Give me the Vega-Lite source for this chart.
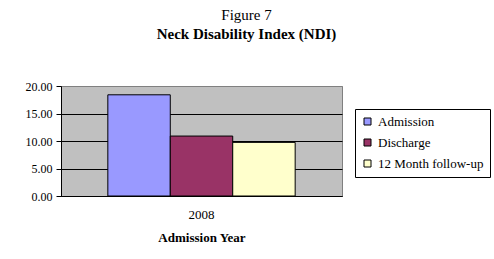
{
  "$schema": "https://vega.github.io/schema/vega-lite/v6.json",
  "width": 281,
  "height": 110,
  "autosize": {"type": "none"},
  "padding": {"left": 61, "top": 86, "right": 152, "bottom": 63},
  "background": "white",
  "title": {
    "text": "Figure 7",
    "subtitle": "Neck Disability Index (NDI)",
    "font": "Liberation Serif",
    "fontSize": 15,
    "fontWeight": "normal",
    "color": "black",
    "subtitleFont": "Liberation Serif",
    "subtitleFontSize": 15,
    "subtitleFontWeight": "bold",
    "subtitleColor": "black",
    "subtitlePadding": 4,
    "anchor": "middle",
    "dx": 45,
    "offset": 38
  },
  "data": {
    "values": [
      {"year": "2008", "measure": "Admission", "score": 18.4},
      {"year": "2008", "measure": "Discharge", "score": 10.9},
      {"year": "2008", "measure": "12 Month follow-up", "score": 9.75}
    ]
  },
  "mark": {"type": "bar", "stroke": "black", "strokeWidth": 1},
  "encoding": {
    "x": {
      "field": "year",
      "type": "nominal",
      "scale": {"paddingOuter": 0.25, "paddingInner": 0},
      "axis": {
        "title": "Admission Year",
        "labelAngle": 0,
        "labelFont": "Liberation Serif",
        "labelFontSize": 13,
        "labelColor": "black",
        "labelPadding": 12,
        "ticks": false,
        "domainColor": "black",
        "titleFont": "Liberation Serif",
        "titleFontSize": 13,
        "titleFontWeight": "bold",
        "titleColor": "black",
        "titlePadding": 10
      }
    },
    "xOffset": {
      "field": "measure",
      "type": "nominal",
      "sort": ["Admission", "Discharge", "12 Month follow-up"],
      "scale": {"paddingInner": 0, "paddingOuter": 0}
    },
    "y": {
      "field": "score",
      "type": "quantitative",
      "scale": {"domain": [0, 20]},
      "axis": {
        "title": null,
        "values": [0, 5, 10, 15, 20],
        "format": ".2f",
        "labelFont": "Liberation Serif",
        "labelFontSize": 12,
        "labelColor": "black",
        "labelPadding": 4,
        "tickColor": "black",
        "tickSize": 5,
        "domainColor": "black",
        "gridColor": {"condition": {"test": "datum.value === 20", "value": "#808080"}, "value": "black"},
        "gridOpacity": 1
      }
    },
    "color": {
      "field": "measure",
      "type": "nominal",
      "sort": ["Admission", "Discharge", "12 Month follow-up"],
      "scale": {
        "domain": ["Admission", "Discharge", "12 Month follow-up"],
        "range": ["#9999FF", "#993366", "#FFFFCC"]
      },
      "legend": {
        "title": null,
        "orient": "none",
        "legendX": 294,
        "legendY": 23,
        "strokeColor": "black",
        "fillColor": "white",
        "padding": 6,
        "symbolType": "square",
        "symbolSize": 49,
        "symbolStrokeColor": "black",
        "symbolStrokeWidth": 1,
        "symbolOpacity": 1,
        "labelFont": "Liberation Serif",
        "labelFontSize": 13,
        "labelColor": "black",
        "labelOffset": 4,
        "rowPadding": 7
      }
    }
  },
  "config": {
    "view": {"fill": "#C0C0C0", "stroke": "#808080"}
  }
}
